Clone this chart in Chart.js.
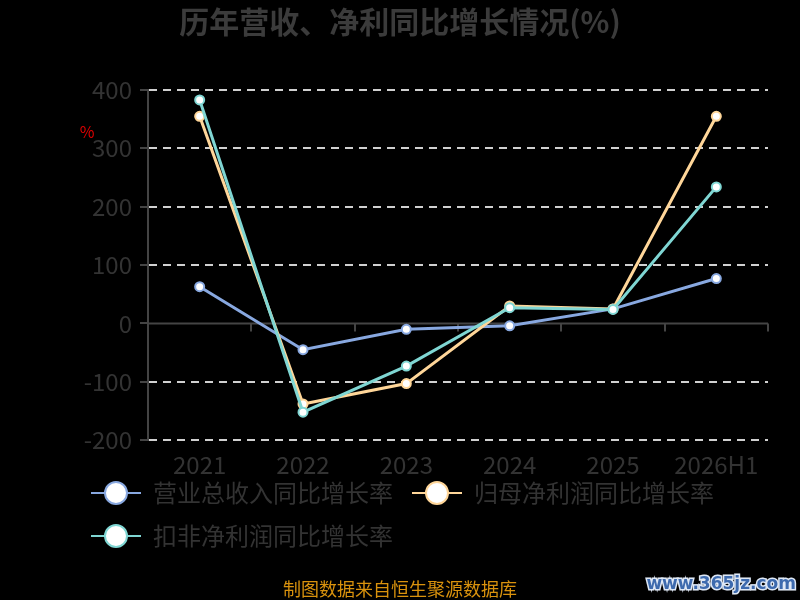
<!DOCTYPE html>
<html>
<head>
<meta charset="utf-8">
<script src="https://cdn.jsdelivr.net/npm/chart.js@4/dist/chart.umd.min.js"></script>
<style>
  html, body { margin: 0; padding: 0; background: #000; }
  #wrap { width: 800px; height: 600px; }
</style>
</head>
<body>
<div id="wrap"><canvas id="growth-chart" width="800" height="600"></canvas></div>
<script>
const FONT = "'Noto Sans CJK SC', 'Open Sans', sans-serif";

const years = ["2021", "2022", "2023", "2024", "2025", "2026H1"];
const yTicks = [400, 300, 200, 100, 0, -100, -200];

const revenueGrowth = [63, -45, -10, -4, 25, 77];      // 营业总收入同比增长率
const netProfitGrowth = [355, -138, -103, 30, 25, 355]; // 归母净利润同比增长率
const deductedGrowth = [383, -152, -73, 27, 24, 234];   // 扣非净利润同比增长率

const seriesNames = ["营业总收入同比增长率", "归母净利润同比增长率", "扣非净利润同比增长率"];
const seriesColors = ["#88a8e0", "#ffd699", "#7fd6d3"];

// legend marker: short line with a hollow circle on it
function legendMarker(color) {
	const c = document.createElement("canvas");
	c.width = 50;
	c.height = 30;
	const g = c.getContext("2d");
	g.strokeStyle = color;
	g.lineWidth = 2;
	g.beginPath();
	g.moveTo(0, 15);
	g.lineTo(50, 15);
	g.stroke();
	g.beginPath();
	g.arc(25, 15, 11, 0, Math.PI * 2);
	g.fillStyle = "#fff";
	g.fill();
	g.lineWidth = 2;
	g.stroke();
	return c;
}
const markers = seriesColors.map(legendMarker);

// zero line, x tick marks, axis name and footer texts
const extras = {
	id: "extras",
	afterLayout(chart) {
		// legend sits a bit closer to the axis labels than chart.js would put it
		chart.legend.top -= 27;
		chart.legend.bottom -= 27;
		chart.legend.left += 40;
	},
	beforeDatasetsDraw(chart) {
		const { ctx, chartArea, scales } = chart;
		const y0 = scales.y.getPixelForValue(0);
		const band = (chartArea.right - chartArea.left) / years.length;
		ctx.save();
		ctx.strokeStyle = "#444";
		ctx.lineWidth = 2;
		ctx.beginPath();
		ctx.moveTo(chartArea.left, y0);
		ctx.lineTo(chartArea.right, y0);
		for (let i = 1; i <= years.length; i++) {
			const x = Math.round(chartArea.left + band * i);
			ctx.moveTo(x, y0);
			ctx.lineTo(x, y0 + 8);
		}
		ctx.stroke();
		ctx.restore();
	},
	afterDraw(chart) {
		const { ctx } = chart;
		ctx.save();
		ctx.fillStyle = "#e00000";
		ctx.font = "16px " + FONT;
		ctx.textAlign = "center";
		ctx.textBaseline = "middle";
		ctx.fillText("%", 87, 132);

		ctx.fillStyle = "#d9920d";
		ctx.font = "18px " + FONT;
		ctx.fillText("制图数据来自恒生聚源数据库", 400, 589);

		ctx.font = "bold 17px 'DejaVu Sans', sans-serif";
		ctx.textAlign = "right";
		ctx.lineWidth = 3;
		ctx.strokeStyle = "#dfe8f5";
		ctx.strokeText("www.365jz.com", 796, 585);
		ctx.fillStyle = "#3d6aae";
		ctx.fillText("www.365jz.com", 796, 585);
		ctx.restore();
	},
};

const ctx = document.getElementById("growth-chart").getContext("2d");

const makeSet = (i, values, order) => ({
	label: seriesNames[i],
	data: values,
	borderColor: seriesColors[i],
	backgroundColor: "#fff",
	borderWidth: 3,
	pointRadius: 4.5,
	pointBorderWidth: 2,
	pointBorderColor: seriesColors[i],
	pointBackgroundColor: "#fff",
	tension: 0,
	order: order,
});

const chart = new Chart(ctx, {
	type: "line",
	data: {
		labels: years,
		datasets: [
			makeSet(0, revenueGrowth, 3),
			makeSet(1, netProfitGrowth, 2),
			makeSet(2, deductedGrowth, 1),
		],
	},
	options: {
		responsive: false,
		animation: false,
		layout: {
			padding: { left: 32, right: 32, top: 0, bottom: 15 },
		},
		plugins: {
			title: {
				display: true,
				text: "历年营收、净利同比增长情况(%)",
				color: "#3b3b3b",
				font: { family: FONT, size: 30, weight: "bold" },
				padding: { top: 4, bottom: 50 },
			},
			legend: {
				position: "bottom",
				align: "start",
				labels: {
					usePointStyle: true,
					pointStyleWidth: 50,
					padding: 19,
					color: "#333",
					font: { family: FONT, size: 24 },
					sort: (a, b) => a.datasetIndex - b.datasetIndex,
					generateLabels(c) {
						const items = Chart.defaults.plugins.legend.labels.generateLabels(c);
						items.forEach((it) => {
							it.pointStyle = markers[it.datasetIndex];
						});
						return items;
					},
				},
			},
			tooltip: { enabled: false },
		},
		scales: {
			x: {
				offset: true,
				grid: { display: false, drawTicks: false },
				border: { display: false },
				ticks: {
					color: "#333",
					padding: 10,
					maxRotation: 0,
					font: { family: FONT, size: 24 },
				},
			},
			y: {
				min: -200,
				max: 400,
				afterBuildTicks(scale) {
					scale.ticks = yTicks.map((v) => ({ value: v }));
				},
				grid: {
					color: (c) => (c.tick && c.tick.value === 0 ? "rgba(0,0,0,0)" : "#d0d0d0"),
					lineWidth: 2,
					tickColor: "#444",
					tickLength: 8,
					tickWidth: 2,
				},
				border: { display: true, color: "#444", width: 2, dash: [8, 6] },
				ticks: {
					color: "#333",
					padding: 8,
					font: { family: FONT, size: 24 },
				},
				afterFit(scale) {
					scale.width = 116;
				},
			},
		},
	},
	plugins: [extras],
});
</script>
</body>
</html>
